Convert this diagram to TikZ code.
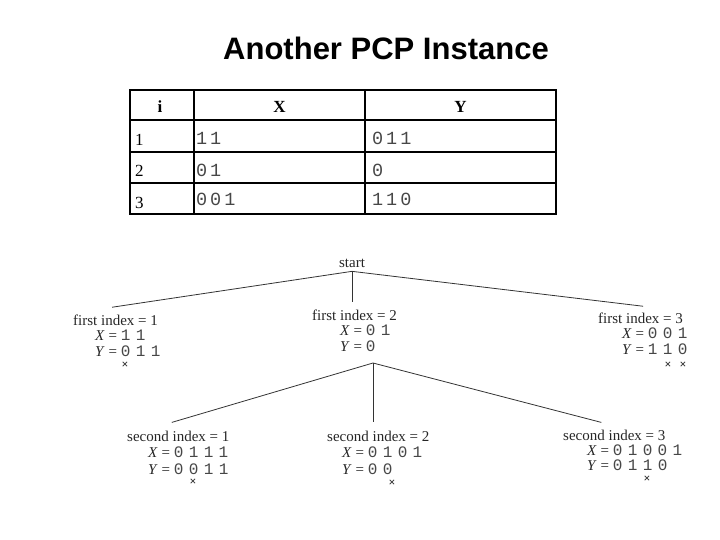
\documentclass[tikz,border=0pt]{standalone}
\usepackage{fontspec}
\usetikzlibrary{calc}
\setmainfont{Liberation Serif}
\newfontfamily\titlefont{Liberation Sans}
\newfontfamily\tabmono[LetterSpace=16]{Liberation Mono}
\newfontfamily\treemono[WordSpace=0.56]{Liberation Mono}
\newcommand\XX{\textit{X}}
\newcommand\YY{\textit{Y}}
\newcommand\bits[1]{{\color{black!72}\treemono\fontsize{16}{16}\selectfont #1}}
\begin{document}
\begin{tikzpicture}[x=1pt,y=1pt,
  ttl/.style={font=\titlefont\bfseries\fontsize{31}{31}\selectfont, anchor=base, inner sep=0},
  hdr/.style={font=\bfseries\fontsize{17}{17}\selectfont, anchor=base, inner sep=0},
  rownum/.style={font=\fontsize{17}{17}\selectfont, anchor=base west, inner sep=0},
  tabbits/.style={font=\tabmono\fontsize{18.5}{18.5}\selectfont, anchor=base west, inner sep=0, text=black!72},
  grid/.style={line width=2pt},
  lab/.style={font=\fontsize{15}{15}\selectfont, anchor=base west, inner sep=0, text=black!85},
  cross/.style={font=\bfseries\fontsize{12}{12}\selectfont, inner sep=0, text=black!85},
  branch/.style={line width=0.8pt, draw=black!80}
]
\useasboundingbox (0,0) rectangle (720,-540);

% title
\node[ttl] (title) at (386,-60) {Another PCP Instance};

% table
\draw[grid] (130,-90) rectangle (556,-214);
\draw[grid] (130,-120) -- (556,-120);
\draw[grid] (130,-152) -- (556,-152);
\draw[grid] (130,-183) -- (556,-183);
\draw[grid] (194,-90) -- (194,-214);
\draw[grid] (365,-90) -- (365,-214);

\node[hdr] (hi) at (160,-113) {i};
\node[hdr] (hx) at (279.5,-113) {X};
\node[hdr] (hy) at (460.5,-113) {Y};

\node[rownum] (r1) at (135,-146) {1};
\node[rownum] (r2) at (135,-177) {2};
\node[rownum] (r3) at (135,-208) {3};

\node[tabbits] (x1) at (196,-145) {11};
\node[tabbits] (x2) at (196,-176.5) {01};
\node[tabbits] (x3) at (196,-206) {001};
\node[tabbits] (y1) at (372,-145) {011};
\node[tabbits] (y2) at (372,-176.5) {0};
\node[tabbits] (y3) at (372,-206) {110};

% tree
\node[lab, anchor=base, inner ysep=4pt] (start) at (352,-267) {start};

\node[lab] (f1) at (73,-325) {first index = 1};
\node[lab] (f1x) at (95,-340) {\XX{} = \bits{1 1}};
\node[lab] (f1y) at (95,-356) {\YY{} = \bits{0 1 1}};
\node[cross] (f1c) at (125,-365) {×};

\node[lab] (f2) at (312,-320) {first index = 2};
\node[lab] (f2x) at (340,-335) {\XX{} = \bits{0 1}};
\node[lab] (f2y) at (340,-351) {\YY{} = \bits{0}};
\coordinate (apex) at (373,-363);

\node[lab] (f3) at (598,-323) {first index = 3};
\node[lab] (f3x) at (622,-338) {\XX{} = \bits{0 0 1}};
\node[lab] (f3y) at (622,-354) {\YY{} = \bits{1 1 0}};
\node[cross] (f3c1) at (668,-365) {×};
\node[cross] (f3c2) at (683,-365) {×};

\node[lab] (s1) at (127,-441) {second index = 1};
\node[lab] (s1x) at (148,-457.5) {\XX{} = \bits{0 1 1 1}};
\node[lab] (s1y) at (148,-474) {\YY{} = \bits{0 0 1 1}};
\node[cross] (s1c) at (193,-482) {×};

\node[lab] (s2) at (327,-441) {second index = 2};
\node[lab] (s2x) at (342,-457.5) {\XX{} = \bits{0 1 0 1}};
\node[lab] (s2y) at (342,-474) {\YY{} = \bits{0 0}};
\node[cross] (s2c) at (392,-483) {×};

\node[lab] (s3) at (563,-440) {second index = 3};
\node[lab] (s3x) at (587,-455) {\XX{} = \bits{0 1 0 0 1}};
\node[lab] (s3y) at (587,-470) {\YY{} = \bits{0 1 1 0}};
\node[cross] (s3c) at (647,-479) {×};

\draw[branch] (start.south) -- ([shift={(-3.5,7)}]f1.north);
\draw[branch] (start.south) -- ($(start.south |- f2.north)+(0,7)$);
\draw[branch] (start.south) -- ([shift={(2.5,6)}]f3.north);
\draw[branch] (apex) -- ([shift={(-6.5,8)}]s1.north);
\draw[branch] (apex) -- ($(apex |- s2.north)+(0,8)$);
\draw[branch] (apex) -- ([shift={(-13,7)}]s3.north);
\end{tikzpicture}
\end{document}
